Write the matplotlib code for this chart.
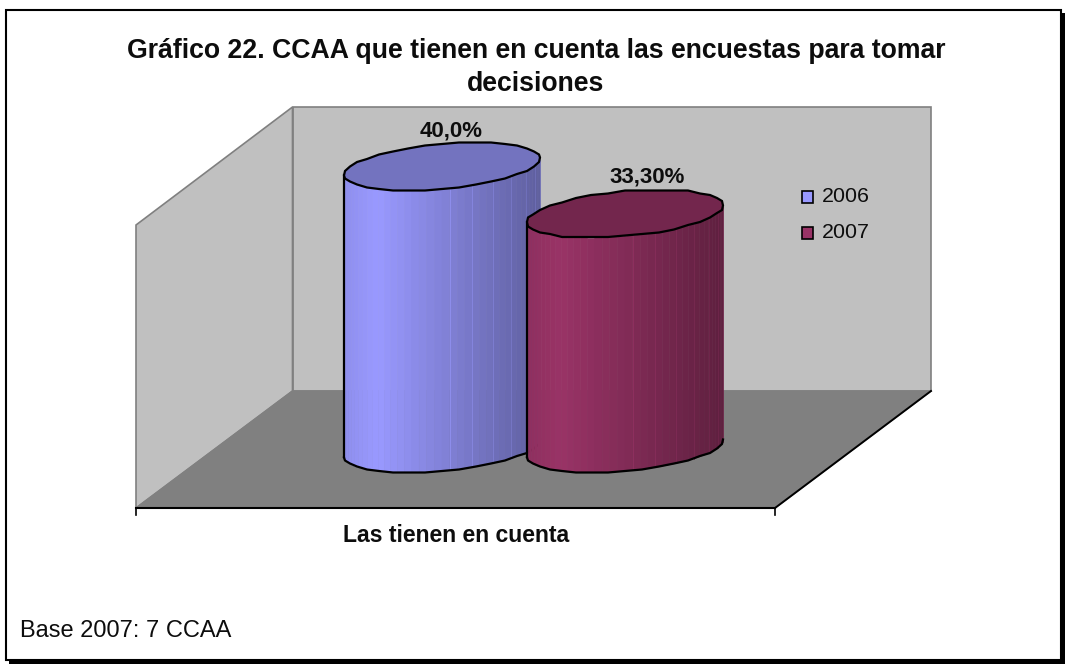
import numpy as np
import matplotlib
matplotlib.use('Agg')
import matplotlib.pyplot as plt
from matplotlib.patches import Polygon, Rectangle
from matplotlib.colors import to_rgb

plt.rcParams['font.family'] = ['Liberation Sans', 'DejaVu Sans']

TITLE = 'Gráfico 22. CCAA que tienen en cuenta las encuestas para tomar\ndecisiones'
CATEGORY = 'Las tienen en cuenta'
NOTE = 'Base 2007: 7 CCAA'
years = ['2006', '2007']
values = [40.0, 33.3]
value_labels = ['40,0%', '33,30%']
colors = ['#9999FF', '#993366']

W, H = 1065, 664
BASE_Y = 448.5    # pixel row of value 0, at the centre of the cylinder feet
PX_PER_UNIT = 7.05
BAR_X = [442, 625]
BAR_A = 98        # half width of the ellipse
BAR_B = 22.5
BAR_TILT = 8.3

def val_to_y(v):
    return BASE_Y - v * PX_PER_UNIT

def shade(rgb, f):
    return tuple(min(1, c * f) for c in rgb)

def body_factor(u):
    # u goes 0..1 from left to right of the cylinder
    if u < 0.17:
        return 0.93 + 0.07 * u / 0.17
    return 1.0 - 0.38 * (u - 0.17) / 0.83

def ellipse(cx, cy, t):
    x = cx + BAR_A * np.cos(t)
    y = cy - BAR_TILT * np.cos(t) + BAR_B * np.sin(t)
    return x, y

def rough(x, y):
    # the outline in the original is a coarse polygon on a pixel grid
    return np.round(x), np.round(y / 1.5) * 1.5

def draw_cylinder(ax, cx, value, color, z):
    rgb = to_rgb(color)
    top = val_to_y(value)
    # front half of the ellipse, as facets
    t = np.linspace(np.pi, 0, 41)
    xt, yt = ellipse(cx, top, t)
    xb, yb = ellipse(cx, BASE_Y, t)
    for i in range(len(t) - 1):
        u = (xt[i] + xt[i + 1]) / 2
        u = (u - (cx - BAR_A)) / (2 * BAR_A)
        c = shade(rgb, body_factor(u))
        ax.add_patch(Polygon([(xt[i], yt[i]), (xt[i + 1], yt[i + 1]),
                              (xb[i + 1], yb[i + 1]), (xb[i], yb[i])],
                             closed=True, fc=c, ec=c, lw=0.4, zorder=z))
        # facets are visible as thin light lines towards the right
        if u > 0.55 and i % 3 == 0:
            ax.plot([xt[i], xb[i]], [yt[i], yb[i]], color=shade(rgb, body_factor(u) * 1.15),
                    lw=0.6, zorder=z + 0.1)
    # outline
    ax.plot(xt[[0, 0]], [yt[0], yb[0]], color='black', lw=1.6, zorder=z + 0.2)
    tt = np.linspace(np.pi, 0, 19)
    xo, yo = rough(*ellipse(cx, BASE_Y, tt))
    ax.plot(xo, yo, color='black', lw=1.6, zorder=z + 0.2)
    # top face
    tt = np.linspace(0, 2 * np.pi, 37)
    xo, yo = rough(*ellipse(cx, top, tt))
    ax.add_patch(Polygon(np.column_stack([xo, yo]), closed=True, fc=shade(rgb, 0.75),
                         ec='black', lw=1.6, zorder=z + 0.3))

fig = plt.figure(figsize=(W / 100, H / 100), dpi=100, facecolor='white')
ax = fig.add_axes([0, 0, 1, 1])
ax.set_xlim(0, W)
ax.set_ylim(H, 0)
ax.axis('off')

# chart frame with its shadow
ax.add_patch(Rectangle((9, 13), 1056, 651, fc='black', ec='black', lw=0))
ax.add_patch(Rectangle((6, 10), 1055, 650, fc='white', ec='black', lw=1.5))

ax.text(536, 67.5, TITLE, ha='center', va='center', fontsize=19.2, fontweight='bold',
        linespacing=1.36, color='#0d0d0d')

# 3d box
wall = '#C0C0C0'
edge = '#808080'
ax.add_patch(Polygon([(292.5, 107), (931, 107), (931, 391), (292.5, 391)], fc=wall, ec=edge, lw=1.2))
ax.add_patch(Polygon([(136, 225), (292.5, 107), (292.5, 391), (136, 508)], fc=wall, ec=edge, lw=1.2))
ax.add_patch(Polygon([(292.5, 391), (931, 391), (775, 508), (136, 508)], fc=edge, ec=edge, lw=1))
ax.plot([931, 775], [391, 508], color='black', lw=1.4, zorder=2)

# category axis
ax.plot([136, 775], [508, 508], color='black', lw=1.5, zorder=2)
ax.plot([136, 136], [508, 515], color='black', lw=1.2, zorder=2)
ax.plot([775, 775], [508, 515], color='black', lw=1.2, zorder=2)
ax.text(456, 536, CATEGORY, ha='center', va='center', fontsize=16.6, fontweight='bold',
        color='#0d0d0d')

for i in range(len(values)):
    draw_cylinder(ax, BAR_X[i], values[i], colors[i], 3 + i)
    ax.text(BAR_X[i] + 9 + 13 * i, val_to_y(values[i]) - 36 - 1 * i, value_labels[i],
            ha='center', va='center', fontsize=16, fontweight='bold', color='#0d0d0d', zorder=6)

# legend
for i, y in enumerate(years):
    row = 196.5 + 36.5 * i
    ax.add_patch(Rectangle((802, row - 6), 11, 12, fc=colors[i], ec='black', lw=1.2, zorder=6))
    ax.text(822, row, y, ha='left', va='center', fontsize=15.4, color='#0d0d0d', zorder=6)

ax.text(20.5, 631, NOTE, ha='left', va='center', fontsize=17, color='#0d0d0d')

fig.savefig('out.png', dpi=100, facecolor='white')
